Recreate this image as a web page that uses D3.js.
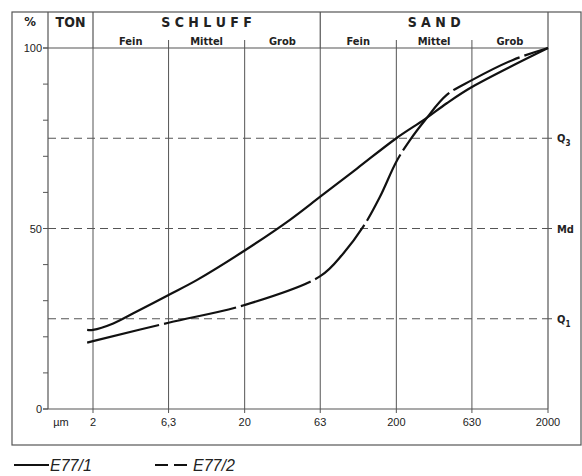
<!DOCTYPE html>
<html>
<head>
<meta charset="utf-8">
<script src="https://cdn.jsdelivr.net/npm/d3@7"></script>
<style>
  body { margin: 0; background: #fff; }
  svg text { font-family: "Liberation Sans Narrow", "DejaVu Sans Condensed", "Liberation Sans", sans-serif; fill: #222; }
</style>
</head>
<body>
<svg id="chart" width="582" height="476"></svg>
<script>
// grain size (µm) and cumulative percentage
var sizesA = [1.83, 2, 2.72, 3.69, 6.3, 9.66, 20, 39.8, 63, 110, 200, 309, 430, 630, 2000];
var pctA   = [21.9, 21.9, 23.7, 26.5, 31.6, 35.7, 43.9, 52.4, 58.8, 66.6, 75, 80.3, 84.7, 89.2, 100];

var sizesB = [1.83, 2, 6.3, 20, 63, 89.4, 121, 156, 200, 246, 309, 430, 630, 1175, 2000];
var pctB   = [18.4, 18.8, 23.9, 28.8, 36.8, 43.1, 50.5, 58.8, 68.5, 74.5, 80, 87, 91.1, 96.7, 100];

var xTicks = [2, 6.3, 20, 63, 200, 630, 2000];
var xTickLabels = ["2", "6,3", "20", "63", "200", "630", "2000"];
var yTicks = [0, 50, 100];
var quartiles = [25, 50, 75];
var quartileLabels = ["Q1", "Md", "Q3"];

var groups = [
  {name: "TON", from: 1, to: 2, subs: []},
  {name: "S C H L U F F", from: 2, to: 63, subs: [["Fein", 2, 6.3], ["Mittel", 6.3, 20], ["Grob", 20, 63]]},
  {name: "S A N D", from: 63, to: 2000, subs: [["Fein", 63, 200], ["Mittel", 200, 630], ["Grob", 630, 2000]]}
];

var legendNames = ["E77/1", "E77/2"];

var svg = d3.select("#chart");
var plotL = 48, plotR = 548, plotT = 48, plotB = 409;
var frame = {x0: 12, x1: 581, y0: 12, y1: 445};

var x = d3.scaleLog().domain([2, 2000]).range([93, plotR]);
var y = d3.scaleLinear().domain([0, 100]).range([plotB, plotT]);

var grey = "#555";

// outer frame
svg.append("rect")
    .attr("x", frame.x0).attr("y", frame.y0)
    .attr("width", frame.x1 - frame.x0).attr("height", frame.y1 - frame.y0)
    .attr("fill", "none").attr("stroke", grey).attr("stroke-width", 1.2);

// header column lines
svg.append("line").attr("x1", plotL).attr("x2", plotL).attr("y1", frame.y0).attr("y2", plotB)
    .attr("stroke", grey).attr("stroke-width", 1.2);
svg.append("line").attr("x1", plotR).attr("x2", plotR).attr("y1", frame.y0).attr("y2", plotB)
    .attr("stroke", grey).attr("stroke-width", 1.2);
[2, 63].forEach(function(v) {
  svg.append("line").attr("x1", x(v)).attr("x2", x(v)).attr("y1", frame.y0).attr("y2", plotT)
      .attr("stroke", grey).attr("stroke-width", 1.2);
});

// vertical grid
svg.append("g").selectAll("line")
  .data(xTicks.slice(0, -1))
  .enter().append("line")
    .attr("x1", function(d) { return x(d); })
    .attr("x2", function(d) { return x(d); })
    .attr("y1", plotT).attr("y2", plotB + 4)
    .attr("stroke", grey).attr("stroke-width", 1);
svg.append("line").attr("x1", plotR).attr("x2", plotR).attr("y1", plotB).attr("y2", plotB + 4)
    .attr("stroke", grey);

// header sub ticks
[6.3, 20, 200, 630].forEach(function(v) {
  svg.append("line").attr("x1", x(v)).attr("x2", x(v)).attr("y1", plotT - 8).attr("y2", plotT)
      .attr("stroke", grey);
});

// top (100) and bottom (0) lines
svg.append("line").attr("x1", plotL - 5).attr("x2", plotR).attr("y1", plotT).attr("y2", plotT)
    .attr("stroke", grey).attr("stroke-width", 1.2);
svg.append("line").attr("x1", plotL - 5).attr("x2", plotR).attr("y1", plotB).attr("y2", plotB)
    .attr("stroke", grey).attr("stroke-width", 1.2);

// y minor ticks
svg.append("g").selectAll("line")
  .data(d3.range(0, 101, 10))
  .enter().append("line")
    .attr("x1", plotL - 5).attr("x2", plotL)
    .attr("y1", function(d) { return y(d); })
    .attr("y2", function(d) { return y(d); })
    .attr("stroke", grey);

// y labels
svg.append("g").selectAll("text")
  .data(yTicks)
  .enter().append("text")
    .attr("x", plotL - 6)
    .attr("y", function(d) { return y(d) + 4; })
    .attr("text-anchor", "end")
    .style("font-family", "'Liberation Sans', Arial, sans-serif")
    .attr("font-size", 11)
    .text(function(d) { return d; });

svg.append("text").attr("x", 30).attr("y", 26).attr("text-anchor", "middle")
    .attr("font-size", 13).attr("font-weight", "bold").text("%");

// x labels
svg.append("g").selectAll("text")
  .data(xTicks)
  .enter().append("text")
    .attr("x", function(d) { return x(d); })
    .attr("y", 426)
    .attr("text-anchor", "middle")
    .style("font-family", "'Liberation Sans', Arial, sans-serif")
    .attr("font-size", 11)
    .text(function(d, i) { return xTickLabels[i]; });
svg.append("text").attr("x", 61).attr("y", 426).attr("text-anchor", "middle")
    .style("font-family", "'Liberation Sans', Arial, sans-serif")
    .attr("font-size", 11).text("µm");

// header texts
groups.forEach(function(g) {
  var x0 = g.from === 1 ? plotL : x(g.from);
  svg.append("text")
      .attr("x", (x0 + x(g.to)) / 2).attr("y", 27)
      .attr("text-anchor", "middle")
      .attr("font-size", 14).attr("font-weight", "bold")
      .text(g.name);
  g.subs.forEach(function(s) {
    svg.append("text")
        .attr("x", (x(s[1]) + x(s[2])) / 2).attr("y", 45)
        .attr("text-anchor", "middle")
        .attr("font-size", 11).attr("font-weight", "bold")
        .text(s[0]);
  });
});

// quartile dashed lines
svg.append("g").selectAll("line")
  .data(quartiles)
  .enter().append("line")
    .attr("x1", plotL).attr("x2", plotR)
    .attr("y1", function(d) { return y(d); })
    .attr("y2", function(d) { return y(d); })
    .attr("stroke", grey).attr("stroke-width", 1)
    .attr("stroke-dasharray", "8,5");
svg.append("g").selectAll("line")
  .data(quartiles)
  .enter().append("line")
    .attr("x1", plotR).attr("x2", plotR + 4)
    .attr("y1", function(d) { return y(d); })
    .attr("y2", function(d) { return y(d); })
    .attr("stroke", grey);

var ql = svg.append("g").selectAll("text")
  .data(quartiles)
  .enter().append("text")
    .attr("x", 557)
    .attr("y", function(d) { return y(d) + 4; })
    .attr("font-size", 11).attr("font-weight", "bold");
ql.append("tspan").text(function(d, i) { return quartileLabels[i].charAt(0); });
ql.append("tspan")
    .attr("dy", function(d, i) { return quartileLabels[i] === "Md" ? 0 : 4; })
    .attr("font-size", function(d, i) { return quartileLabels[i] === "Md" ? 11 : 8; })
    .text(function(d, i) { return quartileLabels[i].charAt(1); });

// curves
var line = d3.line()
    .x(function(d) { return x(d[0]); })
    .y(function(d) { return y(d[1]); })
    .curve(d3.curveCatmullRom.alpha(0.5));

svg.append("path")
    .datum(d3.zip(sizesA, pctA))
    .attr("d", line)
    .attr("fill", "none").attr("stroke", "#111").attr("stroke-width", 2.2);

svg.append("path")
    .datum(d3.zip(sizesB, pctB))
    .attr("d", line)
    .attr("fill", "none").attr("stroke", "#111").attr("stroke-width", 2.2)
    .attr("stroke-dasharray", "74,5");

// legend
var lg = svg.append("g");
lg.append("line").attr("x1", 14).attr("x2", 49).attr("y1", 465).attr("y2", 465)
    .attr("stroke", "#111").attr("stroke-width", 1.8);
lg.append("line").attr("x1", 155).attr("x2", 190).attr("y1", 465).attr("y2", 465)
    .attr("stroke", "#111").attr("stroke-width", 1.8).attr("stroke-dasharray", "13,6");
[[50, legendNames[0]], [193, legendNames[1]]].forEach(function(p) {
  lg.append("text").attr("x", p[0]).attr("y", 471)
      .style("font-family", "'Liberation Sans', Arial, sans-serif")
      .attr("font-size", 16).attr("font-style", "italic")
      .text(p[1]);
});
</script>
</body>
</html>
